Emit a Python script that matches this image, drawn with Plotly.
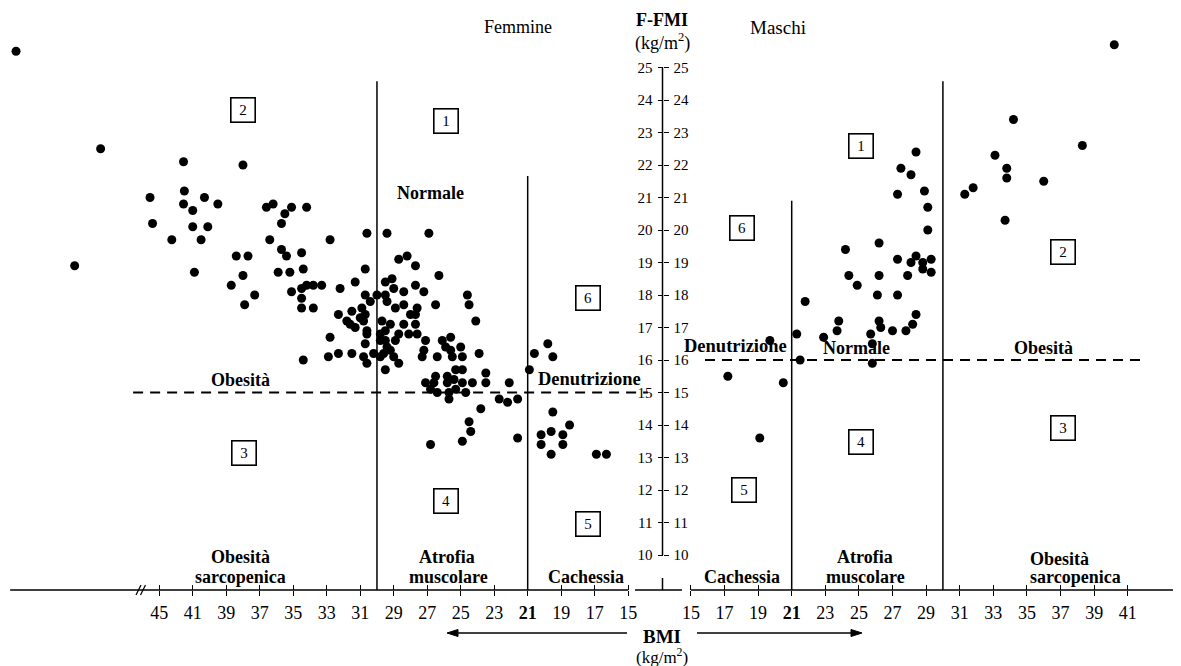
import plotly.graph_objects as go

SERIF = "Liberation Serif, Times New Roman, serif"

# ---------------- data ----------------
f_bmi = [62.1, 52.0, 55.1, 42.1, 38.0, 46.1, 42.0, 42.1, 40.3, 39.5,
         41.0, 45.8, 41.0, 40.1, 43.5, 40.5, 40.9, 36.6, 36.2, 35.1,
         35.5, 35.7, 34.2, 36.4, 35.7, 35.4, 34.5, 32.8, 38.4, 37.7,
         38.0, 35.9, 35.2, 34.4, 38.7, 37.3, 37.9, 35.1, 34.5, 34.2,
         33.8, 33.3, 34.5, 34.5, 33.8, 30.6, 29.4, 26.9, 30.7, 28.7,
         28.2, 27.7, 26.3, 31.3, 29.5, 29.1, 29.0, 27.7, 27.2, 28.4,
         32.2, 30.7, 30.0, 29.5, 29.4, 30.4, 28.9, 28.4, 28.0, 27.7,
         26.5, 24.6, 24.5, 24.1, 32.3, 31.5, 30.9, 30.7, 31.0, 31.8,
         31.6, 31.3, 30.8, 30.6, 30.6, 30.7, 32.8, 29.7, 29.2, 29.8,
         29.5, 28.7, 28.4, 28.1, 27.6, 29.8, 29.5, 29.4, 28.9, 29.6,
         29.2, 29.0, 28.7, 29.8, 30.2, 30.8, 30.6, 31.5, 32.3, 32.9,
         34.4, 29.5, 27.1, 26.1, 25.6, 25.9, 25.6, 25.0, 27.2, 26.4,
         25.5, 24.9, 23.9, 23.5, 26.5, 25.8, 25.3, 24.9, 27.3, 23.5,
         27.1, 26.6, 26.8, 26.4, 25.8, 25.4, 24.9, 24.3, 25.7, 25.3,
         24.7, 25.7, 22.1, 22.7, 22.2, 21.6, 23.8, 24.5, 24.4, 24.9,
         26.8, 21.6, 20.9, 20.6, 19.8, 19.5, 19.5, 18.5, 20.2, 19.6,
         18.9, 20.2, 18.9, 19.6, 16.9, 16.3, 27.6, 27.7]
f_fmi = [25.5, 22.5, 18.9, 22.1, 22.0, 21.0, 21.2, 20.8, 21.0, 20.8,
         20.6, 20.2, 20.1, 20.1, 19.7, 19.7, 18.7, 20.7, 20.8, 20.7,
         20.5, 20.2, 20.7, 19.7, 19.4, 19.2, 19.3, 19.7, 19.2, 19.2,
         18.6, 18.7, 18.7, 18.8, 18.3, 18.0, 17.7, 18.1, 18.2, 18.3,
         18.3, 18.3, 17.9, 17.6, 17.6, 19.9, 19.9, 19.9, 18.8, 19.1,
         19.2, 18.9, 18.6, 18.4, 18.4, 18.5, 18.2, 18.3, 18.1, 18.1,
         18.2, 18.0, 18.0, 18.0, 17.8, 17.8, 17.6, 17.7, 17.4, 17.4,
         17.7, 18.0, 17.7, 17.2, 17.4, 17.5, 17.6, 17.4, 17.3, 17.2,
         17.1, 17.0, 17.2, 16.9, 16.8, 16.5, 16.7, 17.2, 17.1, 16.8,
         16.9, 16.8, 17.1, 16.8, 16.8, 16.6, 16.6, 16.4, 16.6, 16.2,
         16.3, 16.1, 15.9, 16.1, 16.2, 16.1, 15.9, 16.2, 16.2, 16.1,
         16.0, 15.7, 16.6, 16.6, 16.7, 16.4, 16.3, 16.4, 16.3, 16.1,
         16.1, 16.1, 16.2, 15.6, 15.5, 15.5, 15.7, 15.7, 16.1, 15.3,
         15.3, 15.3, 15.1, 15.0, 15.3, 15.4, 15.3, 15.3, 15.0, 15.1,
         15.0, 14.8, 15.3, 14.8, 14.7, 14.8, 14.5, 14.1, 13.8, 13.5,
         13.4, 13.6, 15.7, 16.2, 16.5, 16.1, 14.4, 14.0, 13.7, 13.8,
         13.7, 13.4, 13.4, 13.1, 13.1, 13.1, 17.6, 17.1]

m_bmi = [40.2, 34.2, 38.3, 33.1, 33.8, 33.8, 36.0, 31.8, 31.3, 33.7,
         28.4, 27.5, 28.1, 27.3, 28.9, 29.1, 29.1, 26.2, 24.2, 27.3,
         28.4, 28.1, 28.8, 29.3, 28.8, 29.3, 27.9, 24.4, 26.2, 24.9,
         27.3, 26.1, 21.8, 28.4, 28.2, 27.8, 27.0, 26.3, 26.2, 23.8,
         23.7, 25.7, 25.8, 22.9, 21.3, 19.7, 21.5, 25.8, 17.2, 20.5,
         19.1]
m_fmi = [25.7, 23.4, 22.6, 22.3, 21.9, 21.6, 21.5, 21.3, 21.1, 20.3,
         22.4, 21.9, 21.7, 21.1, 21.2, 20.7, 20.0, 19.6, 19.4, 19.1,
         19.2, 19.0, 19.0, 19.1, 18.8, 18.7, 18.6, 18.6, 18.6, 18.3,
         18.0, 18.0, 17.8, 17.4, 17.1, 16.9, 16.9, 17.0, 17.2, 17.2,
         16.9, 16.8, 16.5, 16.7, 16.8, 16.6, 16.0, 15.9, 15.5, 15.3,
         13.6]

f_ticks = [45, 41, 39, 37, 35, 33, 31, 29, 27, 25, 23, 21, 19, 17, 15]
m_ticks = [15, 17, 19, 21, 23, 25, 27, 29, 31, 33, 35, 37, 39, 41]
y_ticks = list(range(10, 26))

BREAK_AT = 41


def f_pos(b):
    """Female axis is broken after 41: the stretch beyond is compressed by half."""
    return b if b <= BREAK_AT else BREAK_AT + (b - BREAK_AT) / 2


def tick_label(v):
    return "<b>%d</b>" % v if v == 21 else str(v)


# ---------------- geometry (layout only) ----------------
OFF = 8                  # page body margin of the browser
W, H = 1181 - OFF, 666 - OFF
PLOT_BOTTOM = 590        # page pixel of the BMI axis line
PLOT_H = PLOT_BOTTOM - OFF


def px(x):
    return (x - OFF) / W


def py(y):
    return (PLOT_BOTTOM - y) / PLOT_H


Y_RANGE = [8.923, 26.831]
F_RANGE = [52.03, 13.10]
M_RANGE = [13.40, 44.17]
F_DOM = [0, px(660)]
M_DOM = [px(664), 1]
Y_AXIS_X = px(662.5)

fig = go.Figure()

marker = dict(size=9, color="black")
fig.add_trace(go.Scatter(x=[f_pos(b) for b in f_bmi], y=f_fmi, mode="markers",
                         marker=marker, xaxis="x", yaxis="y", name="Femmine",
                         showlegend=False))
fig.add_trace(go.Scatter(x=m_bmi, y=m_fmi, mode="markers", marker=marker,
                         xaxis="x2", yaxis="y", name="Maschi", showlegend=False))
# empty traces so that the overlay axes (upper half of crossing ticks, right labels) are drawn
fig.add_trace(go.Scatter(x=[], y=[], xaxis="x3", yaxis="y", showlegend=False))
fig.add_trace(go.Scatter(x=[], y=[], xaxis="x4", yaxis="y", showlegend=False))
fig.add_trace(go.Scatter(x=[], y=[], xaxis="x", yaxis="y2", showlegend=False))

tickfont = dict(family=SERIF, size=18, color="black")
ytickfont = dict(family=SERIF, size=15, color="black")
common_x = dict(showgrid=False, zeroline=False, showline=False, ticks="outside",
                ticklen=5, tickwidth=1.4, tickcolor="black", tickfont=tickfont,
                fixedrange=True, ticklabelstandoff=1)
overlay_x = dict(showgrid=False, zeroline=False, showline=False, ticks="inside",
                 ticklen=5, tickwidth=1.4, tickcolor="black",
                 showticklabels=False, fixedrange=True)
common_y = dict(range=Y_RANGE, anchor="free", position=Y_AXIS_X, showgrid=False,
                zeroline=False, showline=False, ticks="outside", ticklen=5,
                tickwidth=1.4, tickcolor="black", tickvals=y_ticks,
                tickfont=ytickfont, fixedrange=True, ticklabelstandoff=2)

fig.update_layout(
    width=W, height=H,
    margin=dict(l=0, r=0, t=0, b=H - PLOT_H, autoexpand=False),
    plot_bgcolor="white", paper_bgcolor="white",
    xaxis=dict(domain=F_DOM, range=F_RANGE, anchor="y",
               tickvals=[f_pos(v) for v in f_ticks],
               ticktext=[tick_label(v) for v in f_ticks], **common_x),
    xaxis3=dict(overlaying="x", matches="x", anchor="y",
                tickvals=[f_pos(v) for v in f_ticks], **overlay_x),
    xaxis2=dict(domain=M_DOM, range=M_RANGE, anchor="y",
                tickvals=m_ticks, ticktext=[tick_label(v) for v in m_ticks],
                **common_x),
    xaxis4=dict(overlaying="x2", matches="x2", anchor="y",
                tickvals=m_ticks, **overlay_x),
    yaxis=dict(domain=[0, 1], side="left", **common_y),
    yaxis2=dict(overlaying="y", matches="y", side="right", **common_y),
)

shapes = []
LINE = dict(color="black", width=1.5)
# x-axis lines
shapes.append(dict(type="line", xref="x", yref="paper", x0=51.9, x1=15, y0=0, y1=0, line=LINE))
shapes.append(dict(type="line", xref="paper", yref="paper", x0=px(635), x1=px(682), y0=0, y1=0, line=LINE))
shapes.append(dict(type="line", xref="x2", yref="paper", x0=15, x1=M_RANGE[1], y0=0, y1=0, line=LINE))
# axis break marks "//"
for dx in (0, 4.5):
    shapes.append(dict(type="line", xref="paper", yref="paper",
                       x0=px(136 + dx), x1=px(141 + dx), y0=py(595), y1=py(585),
                       line=dict(color="black", width=1.3)))
# central y axis line
shapes.append(dict(type="line", xref="paper", yref="y", x0=Y_AXIS_X, x1=Y_AXIS_X,
                   y0=10, y1=25, line=LINE))
shapes.append(dict(type="line", xref="paper", yref="paper", x0=Y_AXIS_X, x1=Y_AXIS_X,
                   y0=0, y1=py(578), line=LINE))
# vertical region boundaries (BMI cut-offs)
for xr, xv, top in (("x", 30, 24.58), ("x", 21, 21.66), ("x2", 21, 20.9), ("x2", 30, 24.58)):
    shapes.append(dict(type="line", xref=xr, yref="y", x0=xv, x1=xv,
                       y0=Y_RANGE[0], y1=top, line=LINE))
# horizontal dashed FMI cut-offs
DASH = dict(color="black", width=2, dash="10px,7px")
shapes.append(dict(type="line", xref="x", yref="y", x0=44.56, x1=13.82, y0=15, y1=15, line=DASH))
shapes.append(dict(type="line", xref="x2", yref="y", x0=15.84, x1=42.03, y0=16, y1=16, line=DASH))


# BMI direction arrows (shaft + filled head)
def arrow(x_tail, x_tip, y):
    d = 1 if x_tip > x_tail else -1
    base = x_tip - d * 11
    shapes.append(dict(type="line", xref="paper", yref="paper",
                       x0=px(x_tail), x1=px(base), y0=py(y), y1=py(y),
                       line=dict(color="black", width=1.3)))
    path = "M %f %f L %f %f L %f %f Z" % (px(x_tip), py(y), px(base), py(y - 3.5),
                                          px(base), py(y + 3.5))
    shapes.append(dict(type="path", xref="paper", yref="paper", path=path,
                       fillcolor="black", line=dict(color="black", width=1)))


arrow(627, 447, 633)
arrow(697, 862, 633)
fig.update_layout(shapes=shapes)

ann = []


def txt(x, y, s, size=19, bold=False, xanchor="center"):
    ann.append(dict(x=px(x), y=py(y), xref="paper", yref="paper",
                    text=("<b>%s</b>" % s) if bold else s, showarrow=False,
                    font=dict(family=SERIF, size=size, color="black"),
                    xanchor=xanchor, yanchor="middle"))


def box(x, y, s):
    ann.append(dict(x=px(x), y=py(y), xref="paper", yref="paper", text=s,
                    showarrow=False, font=dict(family=SERIF, size=15, color="black"),
                    bordercolor="black", borderwidth=1.6, borderpad=3,
                    width=17, height=17, bgcolor="white",
                    xanchor="center", yanchor="middle"))


UNIT = "(kg/m<sup>2</sup>)"
txt(518, 27, "Femmine", 18)
txt(778, 28, "Maschi", 19)
txt(662, 20, "F-FMI", 18, bold=True)
txt(662, 42, UNIT, 18)
txt(662, 636, "BMI", 19, bold=True)
txt(662, 656, UNIT, 17)

txt(430, 193, "Normale", 18, bold=True)
txt(240, 380, "Obesità", 18, bold=True)
txt(589, 379, "Denutrizione", 18.5, bold=True)
txt(736, 346, "Denutrizione", 18.5, bold=True)
txt(856, 348, "Normale", 18, bold=True)
txt(1043, 348, "Obesità", 18, bold=True)

txt(240, 557, "Obesità", 18, bold=True)
txt(240, 577, "sarcopenica", 18, bold=True)
txt(447, 557, "Atrofia", 18, bold=True)
txt(448, 577, "muscolare", 18, bold=True)
txt(586, 577, "Cachessia", 18, bold=True)
txt(742, 577, "Cachessia", 18, bold=True)
txt(865, 557, "Atrofia", 18, bold=True)
txt(865, 577, "muscolare", 18, bold=True)
txt(1028, 559, "Obesità", 18, bold=True, xanchor="left")
txt(1028, 577, "sarcopenica", 18, bold=True, xanchor="left")

for (x, y, s) in ((243, 110, "2"), (446, 121, "1"), (588, 298, "6"), (244, 453, "3"),
                  (446, 501, "4"), (588, 524, "5"), (861, 146, "1"), (742, 228, "6"),
                  (1063, 252, "2"), (744, 490, "5"), (861, 442, "4"), (1063, 428, "3")):
    box(x, y, s)

fig.update_layout(annotations=ann)
fig.write_html("out.html")
